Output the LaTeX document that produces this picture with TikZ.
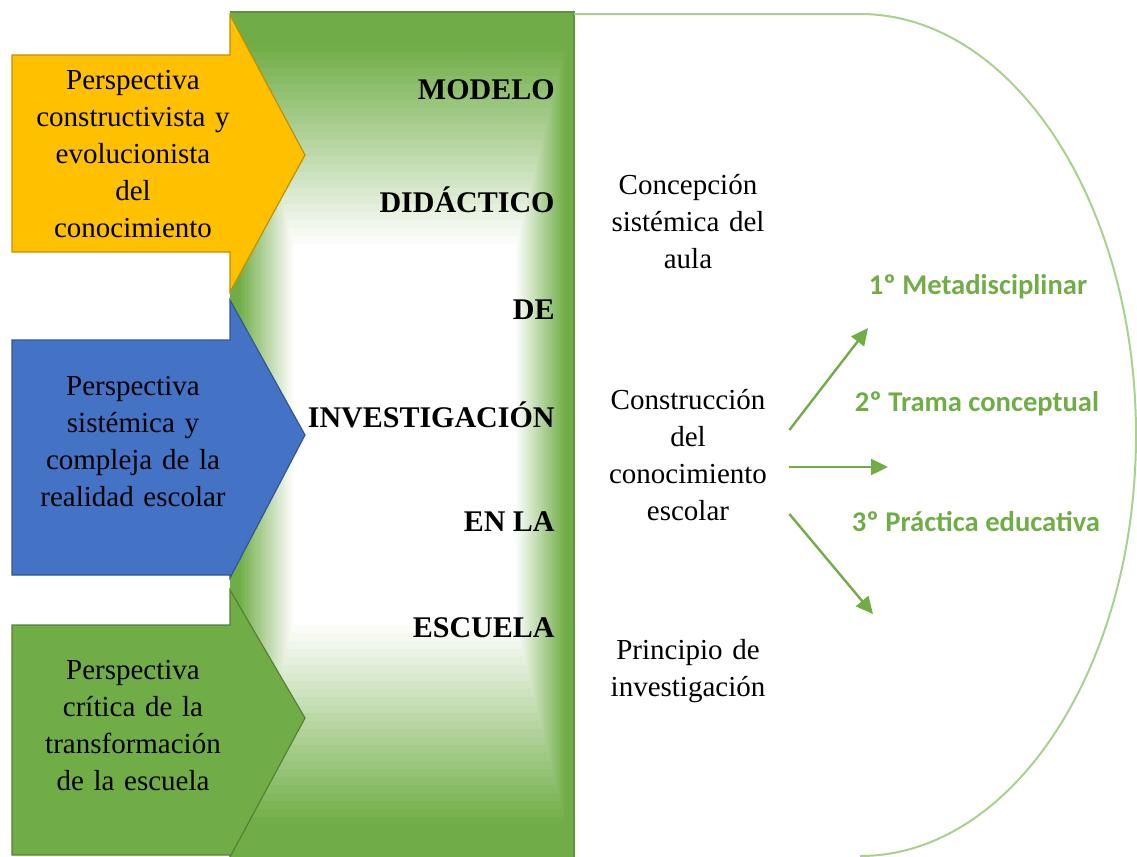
\documentclass[tikz,border=0pt]{standalone}
\usepackage{fontspec}
\setmainfont{Liberation Serif}
\newfontfamily\calibri{Carlito}
\usetikzlibrary{arrows.meta}
\definecolor{amarillo}{HTML}{FFC000}
\definecolor{azul}{HTML}{4472C4}
\definecolor{verde}{HTML}{70AD47}
\definecolor{verdeclaro}{HTML}{A9D18E}
\begin{document}
\begin{tikzpicture}[x=.5pt,y=-.5pt,
	flecha/.style={line width=.6pt},
	texto/.style={align=center,inner sep=0pt,text width=84pt,font=\fontsize{14.5}{18.5}\selectfont},
	lado/.style={texto,text width=112pt},
	titulo/.style={anchor=east,inner sep=0pt,font=\fontsize{15}{18}\selectfont\bfseries},
	paso/.style={text=verde,font=\calibri\bfseries\fontsize{14.3}{17}\selectfont},
	conector/.style={verde,line width=1.2pt,-{Triangle[length=8.5pt,width=8pt]}}]
	\useasboundingbox (0,0) rectangle (1137,857);
	\foreach \i in {0,...,30}{
		\pgfmathtruncatemacro\pct{max(0,min(100,115-4*\i))}
		\fill[verde!\pct!white] (230+2.2*\i,12+8*\i) rectangle (574-2*\i,857-8*\i);
	}
	\draw[verde!85!black,line width=.6pt] (230,12) -- (574,12) -- (574,857);
	\draw[verdeclaro,line width=1pt] (574,14) -- (860,14) arc[start angle=-90,end angle=90,x radius=276,y radius=421];
	\draw[flecha,fill=amarillo,draw=amarillo!75!black] (12,55) -- (230,55) -- (230,15) -- (305,155) -- (230,292) -- (230,252) -- (12,252) -- cycle;
	\draw[flecha,fill=azul,draw=azul!75!black] (12,340) -- (230,340) -- (230,300) -- (305,435) -- (230,578) -- (230,575) -- (12,575) -- cycle;
	\draw[flecha,fill=verde,draw=verde!75!black] (12,625) -- (230,625) -- (230,590) -- (305,718) -- (230,857) -- (230,855) -- (12,855) -- cycle;
	\node[lado] (pA) at (133,154) {Perspectiva\\constructivista y\\evolucionista\\del\\conocimiento};
	\node[lado] (pB) at (133,442) {Perspectiva\\sistémica y\\compleja de la\\realidad escolar};
	\node[lado] (pC) at (133,726) {Perspectiva\\crítica de la\\transformación\\de la escuela};
	\foreach \palabra/\y [count=\k] in {MODELO/90,DIDÁCTICO/200,DE/310,INVESTIGACIÓN/415,EN LA/522,ESCUELA/628}
		\node[titulo] (t\k) at (555,\y) {\palabra};
	\node[texto] (cA) at (688,222) {Concepción\\sistémica del\\aula};
	\node[texto] (cB) at (688,455) {Construcción\\del\\conocimiento\\escolar};
	\node[texto] (cC) at (688,671) {Principio de\\investigación};
	\node[paso] (n1) at (978,287) {1º Metadisciplinar};
	\node[paso] (n2) at (977,404) {2º Trama conceptual};
	\node[paso] (n3) at (976,522) {3º Práctica educativa};
	\path
	(868,328) coordinate (f1)
	(888,467) coordinate (f2)
	(873,614) coordinate (f3);
	\draw[conector] ([xshift=8.5pt,yshift=12.5pt]cB.east) -- (f1);
	\draw[conector] ([xshift=8.5pt,yshift=-6pt]cB.east) -- (f2);
	\draw[conector] ([xshift=8.5pt,yshift=-29.5pt]cB.east) -- (f3);
\end{tikzpicture}
\end{document}
